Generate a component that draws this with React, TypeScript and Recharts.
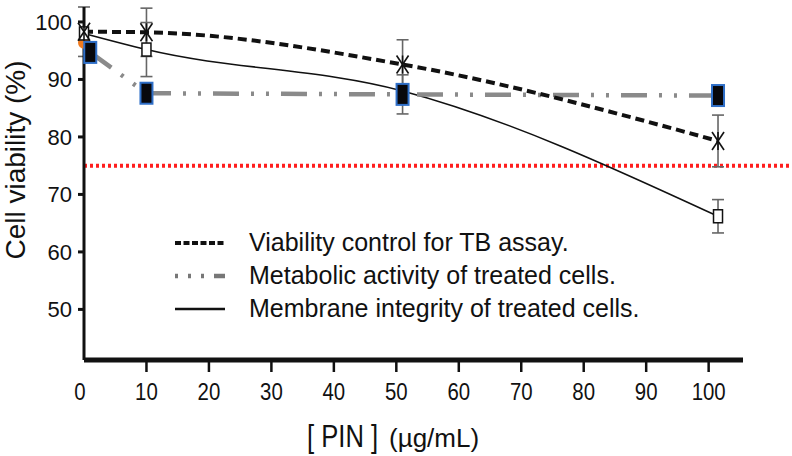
import React from "react";
import {
  ErrorBar,
  Line,
  LineChart,
  ReferenceLine,
  XAxis,
  YAxis,
} from "recharts";

// doses in µg/mL
const doses = [0, 10, 51, 101.5];
const metabolicDoses = [1, 10, 51, 101.5];

const viabilityControl = [98.3, 98.2, 92.6, 79.3];
const viabilityErr = [4.3, 4.2, 4.3, 4.5];

const metabolicActivity = [94.7, 87.6, 87.4, 87.2];
const metabolicErr = [0, 0, 3.4, 0];

const membraneIntegrity = [98, 95.2, 88, 66.2];
const membraneErr = [0, 4.7, 0, 2.9];

const untreatedDose = [0];
const untreatedValue = [96.4];

const xTicks = [0, 10, 20, 30, 40, 50, 60, 70, 80, 90, 100];
const yTicks = [50, 60, 70, 80, 90, 100];
const threshold = 75;

const legendItems = [
  { label: "Viability control for TB assay.", stroke: "#111", width: 4, dash: "6 2.5" },
  { label: "Metabolic activity of treated cells.", stroke: "#777", width: 4.5, dash: "3 10 3 10 3 10 9 0" },
  { label: "Membrane integrity of treated cells.", stroke: "#111", width: 2.5, dash: undefined },
];

const toRows = (xs: number[], ys: number[], errs?: number[]) =>
  xs.map((x, i) => ({ x, y: ys[i], err: errs ? errs[i] : 0 }));

const viabilityRows = toRows(doses, viabilityControl, viabilityErr);
const metabolicRows = toRows(metabolicDoses, metabolicActivity, metabolicErr);
const membraneRows = toRows(doses, membraneIntegrity, membraneErr);
const untreatedRows = toRows(untreatedDose, untreatedValue);

const sans = "'Liberation Sans', Arial, Helvetica, sans-serif";

function Asterisk(props: any) {
  const { cx, cy } = props;
  if (cx == null || cy == null) return null;
  return (
    <g stroke="#111" strokeWidth={1.6}>
      <line x1={cx - 6} y1={cy - 9} x2={cx + 6} y2={cy + 9} />
      <line x1={cx + 6} y1={cy - 9} x2={cx - 6} y2={cy + 9} />
      <line x1={cx} y1={cy - 9} x2={cx} y2={cy + 9} />
    </g>
  );
}

function BlueSquare(props: any) {
  const { cx, cy } = props;
  if (cx == null || cy == null) return null;
  return <rect x={cx - 6} y={cy - 10.5} width={12} height={21} fill="#08080c" stroke="#2f6fc8" strokeWidth={2} />;
}

function OpenSquare(props: any) {
  const { cx, cy } = props;
  if (cx == null || cy == null) return null;
  return <rect x={cx - 4.5} y={cy - 6.5} width={9} height={13} fill="#fff" stroke="#111" strokeWidth={1.5} />;
}

function OrangeDot(props: any) {
  const { cx, cy } = props;
  if (cx == null || cy == null) return null;
  return <circle cx={cx} cy={cy} r={6} fill="#f07a1e" />;
}

// narrow-looking tick labels: regular sans squeezed horizontally
function DoseTick(props: any) {
  const { x, y, payload } = props;
  const v = payload.value;
  const tx = v === 0 ? x - 4 : x;
  return (
    <g>
      {v > 0 && <line x1={x} y1={y - 6} x2={x} y2={y + 4} stroke="#111" strokeWidth={2.5} />}
      <text
        transform={`translate(${tx}, ${y + 32}) scale(0.85, 1)`}
        textAnchor="middle"
        fontFamily={sans}
        fontSize={24}
        fill="#111"
      >
        {v}
      </text>
    </g>
  );
}

export default function App() {
  return (
    <div style={{ position: "absolute", left: 0, top: 0, width: 792, height: 456, background: "#fff" }}>
      <LineChart width={792} height={456} margin={{ top: 7, right: 49, bottom: 0, left: 0 }}>
        <XAxis
          type="number"
          dataKey="x"
          domain={[0, 105.5]}
          ticks={xTicks}
          height={96}
          axisLine={{ stroke: "#111", strokeWidth: 5 }}
          tickLine={false}
          tickSize={6}
          tick={<DoseTick />}
          interval={0}
          label={{
            position: "insideBottom",
            content: () => (
              <g fill="#111">
                <text transform="translate(307, 447) scale(0.8, 1)" fontFamily={sans} fontSize={32}>
                  [ PIN ]
                </text>
                <text x={389} y={447} fontFamily={sans} fontSize={26}>
                  (µg/mL)
                </text>
              </g>
            ),
          }}
        />
        <YAxis
          type="number"
          domain={[41.2, 102.1]}
          ticks={yTicks}
          width={84}
          axisLine={{ stroke: "#111", strokeWidth: 3 }}
          tickLine={{ stroke: "#111", strokeWidth: 3 }}
          tickSize={6}
          tickMargin={6}
          tick={{ fontSize: 22, fill: "#111", fontFamily: sans }}
          label={{
            position: "insideLeft",
            content: () => (
              <text
                x={25}
                y={160}
                transform="rotate(-90, 25, 160)"
                textAnchor="middle"
                fontFamily={sans}
                fontSize={28}
                fill="#111"
              >
                Cell viability (%)
              </text>
            ),
          }}
        />
        <ReferenceLine
          segment={[
            { x: 0, y: threshold },
            { x: 114, y: threshold },
          ]}
          ifOverflow="visible"
          stroke="#ff1e1e"
          strokeWidth={4}
          strokeDasharray="3 3"
        />
        <Line
          data={untreatedRows}
          dataKey="y"
          stroke="none"
          dot={(p: any) => <OrangeDot key={p.index} {...p} />}
          isAnimationActive={false}
        />
        <Line
          data={membraneRows}
          dataKey="y"
          type="monotone"
          stroke="#111"
          strokeWidth={1.6}
          dot={(p: any) => <OpenSquare key={p.index} {...p} />}
          isAnimationActive={false}
        >
          <ErrorBar dataKey="err" direction="y" width={6} stroke="#666" strokeWidth={1.6} />
        </Line>
        <Line
          data={metabolicRows}
          dataKey="y"
          type="linear"
          stroke="#8a8a8a"
          strokeWidth={4.5}
          strokeDasharray="26 12 3 12 3 12"
          dot={(p: any) => <BlueSquare key={p.index} {...p} />}
          isAnimationActive={false}
        >
          <ErrorBar dataKey="err" direction="y" width={6} stroke="#666" strokeWidth={1.6} />
        </Line>
        <Line
          data={viabilityRows}
          dataKey="y"
          type="monotone"
          stroke="#111"
          strokeWidth={4}
          strokeDasharray="9 5"
          dot={(p: any) => <Asterisk key={p.index} {...p} />}
          isAnimationActive={false}
        >
          <ErrorBar dataKey="err" direction="y" width={6} stroke="#666" strokeWidth={1.6} />
        </Line>
      </LineChart>
      <div style={{ position: "absolute", left: 172, top: 226, fontFamily: sans, fontSize: 25, color: "#111", lineHeight: "33px" }}>
        {legendItems.map((item) => (
          <div key={item.label} style={{ display: "flex", alignItems: "center", height: 33 }}>
            <svg width={58} height={10} style={{ marginRight: 19 }}>
              <line
                x1={3}
                y1={5}
                x2={53}
                y2={5}
                stroke={item.stroke}
                strokeWidth={item.width}
                strokeDasharray={item.dash}
              />
            </svg>
            <span>{item.label}</span>
          </div>
        ))}
      </div>
    </div>
  );
}
